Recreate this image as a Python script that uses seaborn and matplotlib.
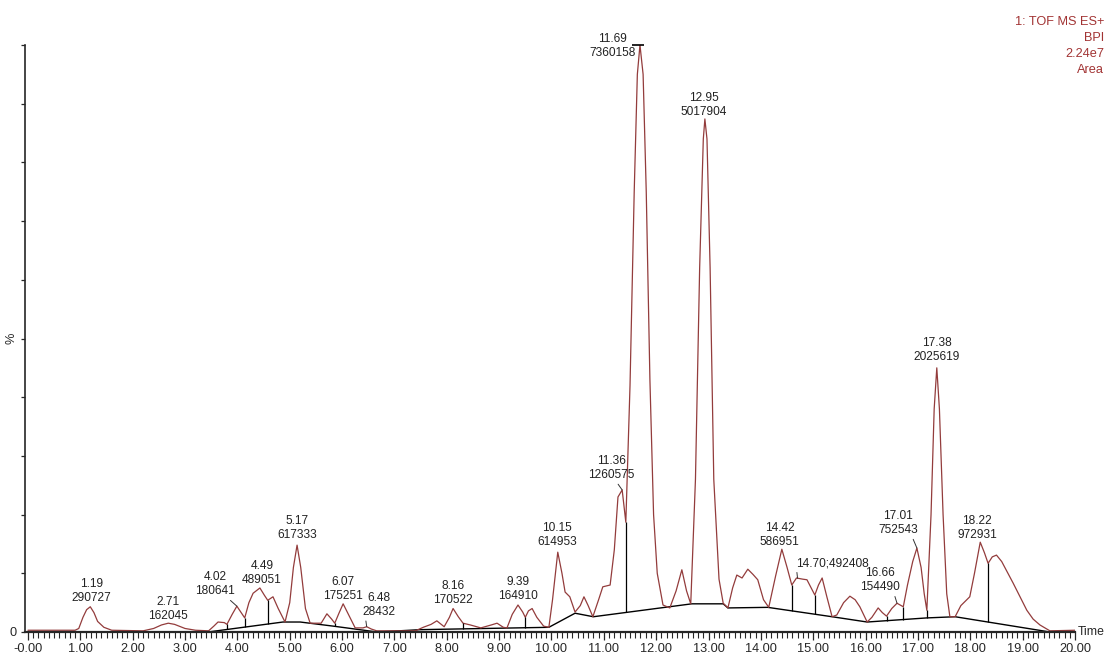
import numpy as np
import pandas as pd
import matplotlib
matplotlib.use("Agg")
import matplotlib.pyplot as plt
from matplotlib.ticker import MultipleLocator, FuncFormatter
import seaborn as sns

# BPI trace: retention time (min) and intensity (% of 2.24e7)
trace_time = [
    0.00, 0.90, 0.97, 1.05, 1.12, 1.19, 1.26, 1.33, 1.45, 1.60,
    2.20, 2.40, 2.55, 2.68, 2.80, 3.00, 3.20, 3.45, 3.55, 3.63,
    3.75, 3.80, 3.90, 3.99, 4.08, 4.14, 4.22, 4.30, 4.43, 4.52,
    4.58, 4.68, 4.78, 4.91, 5.00, 5.07, 5.14, 5.21, 5.30, 5.39,
    5.60, 5.71, 5.80, 5.86, 5.94, 6.02, 6.12, 6.25, 6.40, 6.47,
    6.56, 6.66, 7.40, 7.55, 7.70, 7.81, 7.95, 8.05, 8.12, 8.22,
    8.31, 8.45, 8.65, 8.85, 8.96, 9.08, 9.15, 9.25, 9.36, 9.45,
    9.50, 9.56, 9.63, 9.72, 9.85, 9.95, 10.02, 10.12, 10.20, 10.26,
    10.35, 10.45, 10.55, 10.62, 10.70, 10.79, 10.90, 10.98, 11.12, 11.20,
    11.27, 11.35, 11.42, 11.50, 11.58, 11.64, 11.69, 11.75, 11.81, 11.88,
    11.95, 12.02, 12.13, 12.26, 12.38, 12.49, 12.58, 12.66, 12.75, 12.83,
    12.90, 12.93, 12.97, 13.03, 13.10, 13.20, 13.28, 13.37, 13.46, 13.54,
    13.64, 13.75, 13.85, 13.94, 14.05, 14.15, 14.28, 14.40, 14.50, 14.59,
    14.68, 14.80, 14.88, 14.96, 15.03, 15.10, 15.17, 15.26, 15.36, 15.45,
    15.58, 15.70, 15.80, 15.89, 16.03, 16.12, 16.24, 16.32, 16.40, 16.50,
    16.60, 16.72, 16.80, 16.90, 16.98, 17.06, 17.12, 17.17, 17.25, 17.31,
    17.36, 17.41, 17.48, 17.55, 17.61, 17.71, 17.82, 17.99, 18.08, 18.19,
    18.27, 18.34, 18.42, 18.50, 18.60, 18.72, 18.82, 18.95, 19.08, 19.20,
    19.33, 19.52, 20.00,
]
trace_pct = [
    0.3, 0.3, 0.6, 2.5, 3.8, 4.3, 3.3, 1.8, 0.8, 0.3,
    0.2, 0.6, 1.2, 1.5, 1.3, 0.6, 0.3, 0.2, 1.0, 1.7,
    1.6, 1.3, 3.0, 4.4, 3.2, 2.4, 5.0, 6.6, 7.5, 6.2,
    5.4, 6.0, 4.0, 1.7, 5.0, 11.0, 14.8, 11.0, 4.0, 1.5,
    1.5, 3.1, 2.2, 1.5, 3.2, 4.8, 3.0, 0.7, 0.7, 0.9,
    0.5, 0.2, 0.2, 0.8, 1.3, 1.9, 0.9, 2.5, 4.0, 2.6,
    1.5, 1.2, 0.7, 1.2, 1.5, 0.8, 0.7, 3.0, 4.6, 3.4,
    2.5, 3.6, 4.0, 2.5, 1.0, 0.8, 5.5, 13.6, 10.0, 6.8,
    6.0, 3.4, 4.5, 6.0, 4.5, 2.6, 5.5, 7.7, 8.0, 14.0,
    23.0, 24.2, 18.7, 42.0, 75.0, 95.0, 100.0, 95.0, 75.0, 43.0,
    20.0, 10.0, 4.6, 4.1, 7.0, 10.6, 7.0, 4.8, 26.0, 62.0,
    84.0, 87.4, 84.0, 62.0, 26.0, 9.0, 4.9, 4.1, 7.5, 9.7,
    9.2, 10.7, 9.8, 8.9, 5.5, 4.2, 9.5, 14.1, 11.0, 8.0,
    9.2, 9.0, 8.9, 7.5, 6.3, 8.0, 9.2, 6.0, 2.6, 2.9,
    5.0, 6.1, 5.5, 4.3, 1.7, 2.5, 4.1, 3.3, 2.7, 4.0,
    4.9, 4.3, 8.0, 12.0, 14.3, 11.0, 6.5, 3.7, 20.0, 38.0,
    45.0, 38.0, 20.0, 6.5, 2.6, 2.6, 4.5, 6.0, 10.0, 15.3,
    13.5, 11.7, 12.8, 13.1, 12.0, 10.0, 8.3, 6.0, 3.7, 2.2,
    1.2, 0.2, 0.3,
]

# integration baseline
baseline_time = [0.95, 3.44, 4.87, 5.20, 5.83, 6.67, 7.50, 9.95, 10.45, 10.80,
                 12.68, 13.28, 13.37, 14.13, 15.36, 16.03, 17.17, 17.71, 19.52, 20.00]
baseline_pct = [0.0, 0.0, 1.7, 1.7, 1.0, 0.0, 0.4, 0.8, 3.2, 2.6,
                4.8, 4.8, 4.1, 4.2, 2.6, 1.7, 2.4, 2.6, 0.0, 0.0]

# peak split (drop) lines
drop_time = [3.80, 4.14, 4.58, 5.86, 8.31, 9.50, 11.42, 14.59, 15.03, 16.40, 16.72, 17.17, 18.34]

peak_rt = [1.19, 2.71, 4.02, 4.49, 5.17, 6.07, 6.48, 8.16, 9.39, 10.15,
           11.36, 11.69, 12.95, 14.42, 16.66, 17.01, 17.38, 18.22]
peak_area = [290727, 162045, 180641, 489051, 617333, 175251, 28432, 170522, 164910, 614953,
             1260575, 7360158, 5017904, 586951, 154490, 752543, 2025619, 972931]
inline_rt = [14.70]
inline_area = [492408]

header_lines = ["1: TOF MS ES+", "BPI", "2.24e7", "Area"]

TRACE = "#933c3c"
HEAD = "#a23434"
FS_LABEL = 8.6
FS_TICK = 9.2

sns.set_style("white")
plt.rcParams["font.family"] = ["Liberation Sans Narrow", "Liberation Sans", "DejaVu Sans"]

trace = pd.DataFrame({"time": trace_time, "pct": trace_pct})
base = pd.DataFrame({"time": baseline_time, "pct": baseline_pct})

fig = plt.figure(figsize=(11.07, 6.57), dpi=100)
ax = fig.add_axes([25 / 1107, 25 / 657, 1050 / 1107, 587 / 657])

sns.lineplot(data=base, x="time", y="pct", ax=ax, color="black", lw=1.0,
             estimator=None, sort=False)
sns.lineplot(data=trace, x="time", y="pct", ax=ax, color=TRACE, lw=0.9,
             estimator=None, sort=False)

drop_top = np.interp(drop_time, trace_time, trace_pct)
drop_bot = np.interp(drop_time, baseline_time, baseline_pct)
ax.vlines(drop_time, drop_bot, drop_top, color="black", lw=0.9)

# label offsets in pixels from the apex (dx, dy), plus which labels get a leader line
label_offset = {1.19: (1, 3), 2.71: (0, 1), 4.02: (-22, 9), 4.49: (2, 2), 5.17: (0, 4),
                6.07: (0, 2), 6.48: (12, 9), 8.16: (0, 3), 9.39: (0, 3), 10.15: (-1, 4),
                11.36: (-11, 9), 11.69: (-27, -14), 12.95: (-1, 1), 14.42: (-2, 1),
                16.66: (-17, 10), 17.01: (-19, 12), 17.38: (0, 5), 18.22: (-3, 1)}
leader_rel = {4.02: (0.8, 0), 6.48: (0.1, 0), 11.36: (0.6, 0), 16.66: (0.85, 0), 17.01: (0.85, 0)}

t_arr = np.array(trace_time)
p_arr = np.array(trace_pct)
for rt, area in zip(peak_rt, peak_area):
    win = np.abs(t_arr - rt) <= 0.08
    i = np.argmax(np.where(win, p_arr, -1))
    dx, dy = label_offset[rt]
    kw = {}
    if rt in leader_rel:
        kw["arrowprops"] = dict(arrowstyle="-", color="#333333", lw=0.7,
                                shrinkA=0, shrinkB=0, relpos=leader_rel[rt])
    ax.annotate(f"{rt:.2f}\n{area}", xy=(t_arr[i], p_arr[i]), xytext=(dx, dy),
                textcoords="offset pixels", ha="center", va="bottom",
                fontsize=FS_LABEL, linespacing=1.2, color="#222222", **kw)
    if rt == 11.69:
        ax.plot([t_arr[i] - 0.03], [p_arr[i]], marker="_", ms=8, mew=1.2,
                color="black", clip_on=False)

for rt, area in zip(inline_rt, inline_area):
    y = np.interp(rt, trace_time, trace_pct)
    ax.annotate(f"{rt:.2f};{area}", xy=(rt, y), xytext=(-1, 9), textcoords="offset pixels",
                ha="left", va="bottom", fontsize=FS_LABEL, color="#222222",
                arrowprops=dict(arrowstyle="-", color="#333333", lw=0.7,
                                shrinkA=0, shrinkB=0, relpos=(0.0, 0.0)))

ax.set_xlim(-0.057, 20.0)
ax.set_ylim(0, 100)
ax.xaxis.set_major_locator(MultipleLocator(1))
ax.xaxis.set_minor_locator(MultipleLocator(0.1))
ax.xaxis.set_major_formatter(FuncFormatter(lambda v, _: "-0.00" if abs(v) < 1e-9 else f"{v:.2f}"))
ax.yaxis.set_major_locator(MultipleLocator(10))
ax.yaxis.set_major_formatter(FuncFormatter(lambda v, _: "0" if abs(v) < 1e-9 else ""))
ax.tick_params(axis="x", which="major", direction="out", length=6, width=0.9,
               labelsize=FS_TICK, pad=2, bottom=True)
ax.tick_params(axis="x", which="minor", direction="out", length=4, width=0.8, bottom=True)
ax.tick_params(axis="y", which="major", direction="out", length=3, width=0.9,
               labelsize=FS_TICK, pad=3, left=True)

ax.set_xlabel("")
ax.set_ylabel("%", fontsize=FS_TICK, rotation=90)
ax.yaxis.set_label_coords(-0.007, 0.5)
ax.annotate("Time", xy=(1, 0), xycoords="axes fraction", xytext=(3, 0),
            textcoords="offset pixels", ha="left", va="center", fontsize=8.8)

sns.despine(ax=ax)
ax.spines["bottom"].set_linewidth(1.6)
ax.spines["left"].set_linewidth(1.2)

for k, line in enumerate(header_lines):
    fig.text(1104 / 1107, 1 - (22 + 16 * k) / 657, line, ha="right", va="center",
             fontsize=FS_TICK, color=HEAD)

fig.savefig("out.png", dpi=100)
